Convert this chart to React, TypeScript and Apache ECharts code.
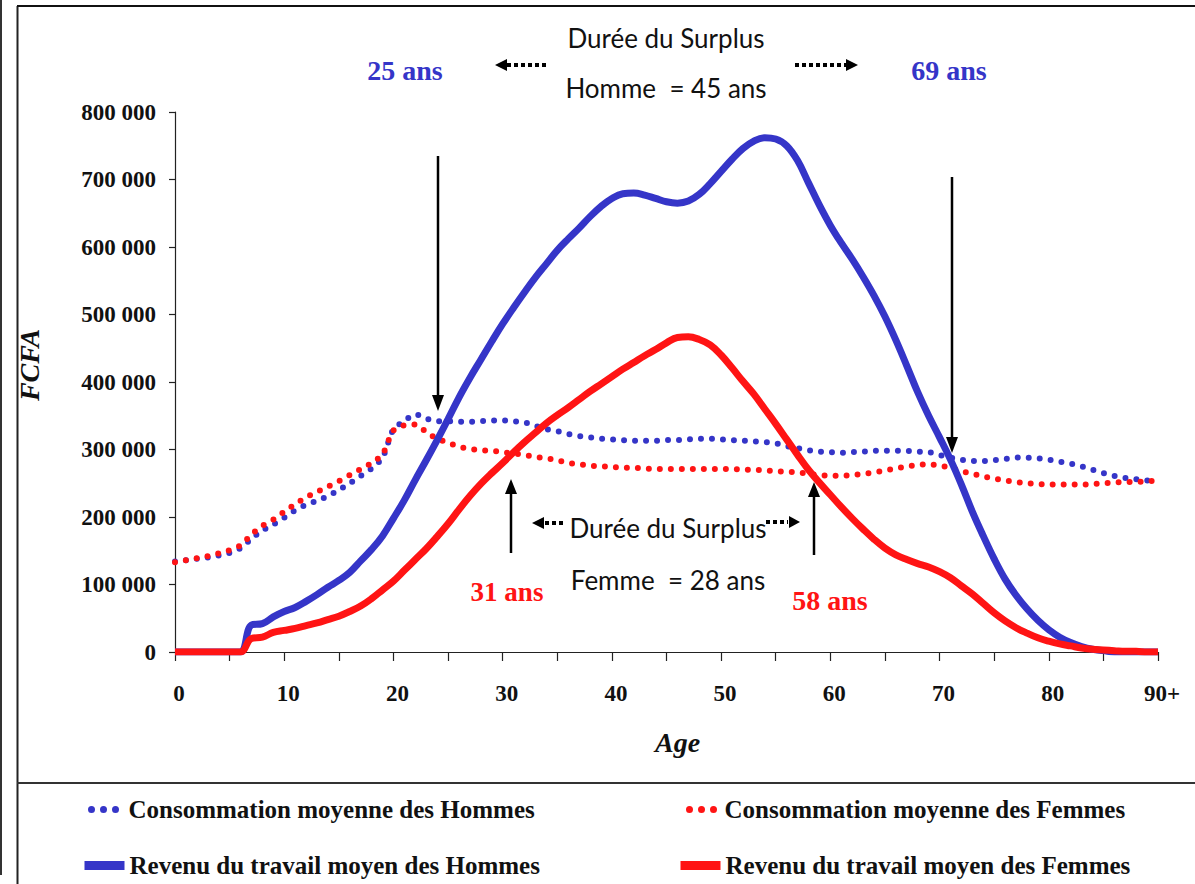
import { useEffect, useRef } from 'react';
import * as echarts from 'echarts';

// Age 0 .. 90+ (one point per year)
const ages: number[] = Array.from({ length: 91 }, (_, i) => i);

// Values in thousands of FCFA
const consoHommes: number[] = [
  134, 136, 138, 140, 143, 147, 154, 168, 180, 189,
  199, 210, 218, 224, 231, 240, 250, 261, 272, 288,
  330, 342, 352, 346, 342, 342, 341, 341, 342, 343,
  343, 342, 340, 335, 330, 327, 323, 320, 318, 316,
  315, 314, 313, 313, 313, 314, 314, 315, 316, 316,
  315, 314, 313, 312, 311, 309, 305, 302, 299, 297,
  296, 295, 296, 297, 298, 298, 298, 298, 297, 296,
  292, 288, 285, 283, 283, 284, 286, 288, 288, 287,
  285, 282, 279, 275, 270, 265, 261, 258, 256, 254,
  253,
];

const consoFemmes: number[] = [
  133, 136, 139, 142, 146, 151, 158, 174, 187, 196,
  208, 219, 229, 237, 245, 253, 262, 271, 280, 293,
  328, 336, 337, 326, 316, 310, 304, 301, 299, 298,
  296, 294, 292, 289, 287, 284, 280, 278, 276, 275,
  274, 273, 273, 272, 271, 271, 271, 271, 271, 271,
  271, 271, 270, 270, 269, 268, 267, 266, 264, 262,
  261, 261, 262, 264, 266, 269, 272, 275, 277, 278,
  276, 273, 268, 264, 260, 257, 254, 252, 250, 249,
  248, 248, 248, 248, 249, 250, 251, 252, 252, 253,
  254,
];

const revenuHommes: number[] = [
  0, 0, 0, 0, 0, 0, 0, 40, 42, 52,
  60, 66, 75, 85, 96, 106, 118, 135, 152, 172,
  198, 225, 255, 284, 314, 345, 377, 406, 433, 460,
  486, 510, 533, 555, 575, 595, 612, 628, 645, 660,
  672, 679, 680, 677, 672, 667, 665, 668, 678, 694,
  712, 730, 746, 757, 762, 760, 750, 728, 695, 662,
  632, 606, 582, 556, 528, 497, 462, 424, 385, 350,
  318, 285, 248, 208, 172, 138, 108, 84, 64, 47,
  33, 22, 14, 8, 4, 2, 0, 0, 0, 0,
  0,
];

const revenuFemmes: number[] = [
  0, 0, 0, 0, 0, 0, 0, 20, 22, 29,
  32, 35, 39, 43, 48, 53, 60, 68, 79, 92,
  105, 121, 137, 153, 171, 190, 211, 231, 249, 265,
  280, 296, 311, 325, 339, 351, 362, 374, 386, 397,
  408, 419, 429, 439, 448, 458, 466, 467, 463, 455,
  440, 421, 401, 382, 360, 338, 315, 292, 270, 251,
  233, 215, 198, 182, 167, 154, 144, 137, 131, 126,
  119, 110, 98, 86, 72, 58, 46, 36, 28, 21,
  16, 12, 9, 6, 4, 3, 2, 1, 1, 0,
  0,
];

const seriesNames = [
  'Consommation moyenne des Hommes',
  'Consommation moyenne des Femmes',
  'Revenu du travail moyen des Hommes',
  'Revenu du travail moyen des Femmes',
];

const BLUE = '#3535C8';
const RED = '#FF1414';
const SERIF = '"Liberation Serif", "Times New Roman", serif';
const SANS = 'Lato, "Open Sans", sans-serif';

const pairs = (vals: number[]) => ages.map((a, i) => [a, vals[i]]);

export default function App() {
  const ref = useRef<HTMLDivElement>(null);

  useEffect(() => {
    document.body.style.margin = '0';
    const chart = echarts.init(ref.current!, null, { renderer: 'svg' });

    const legendText = { fontFamily: SERIF, fontWeight: 'bold', fontSize: 25, color: '#111' };

    const dotted = (color: string) => ({
      color,
      width: 6,
      type: [0, 11],
      cap: 'round',
    });

    const label = (text: string, x: number, y: number, color: string, size: number, family = SERIF, weight = 'bold') => ({
      type: 'text',
      silent: true,
      style: {
        text,
        x,
        y,
        fill: color,
        fontFamily: family,
        fontWeight: weight,
        fontSize: size,
        align: 'center',
        verticalAlign: 'middle',
      },
    });

    const vline = (x: number, y1: number, y2: number) => ({
      type: 'line',
      silent: true,
      shape: { x1: x, y1, x2: x, y2 },
      style: { stroke: '#000', lineWidth: 2.5 },
    });
    const head = (points: number[][]) => ({
      type: 'polygon',
      silent: true,
      shape: { points },
      style: { fill: '#000' },
    });
    const dots = (x1: number, x2: number, y: number) => ({
      type: 'line',
      silent: true,
      shape: { x1, y1: y, x2, y2: y },
      style: { stroke: '#000', lineWidth: 4, lineDash: [4, 3] },
    });

    const legendBase = {
      itemHeight: 10,
      padding: 0,
      textStyle: legendText,
      itemStyle: { opacity: 0 },
    };
    const dotLegend = (color: string) => ({ color, width: 7, type: [0, 12], cap: 'round', dashOffset: -4 });
    const solidLegend = (color: string) => ({ color, width: 9, type: 'solid', cap: 'butt' });

    chart.setOption({
      animation: false,
      backgroundColor: '#fff',
      grid: { left: 175, right: 37, top: 112, bottom: 232, containLabel: false },
      xAxis: {
        type: 'value',
        min: 0,
        max: 90,
        interval: 5,
        name: 'Age',
        nameLocation: 'middle',
        nameGap: 76,
        nameTextStyle: {
          fontFamily: SERIF,
          fontStyle: 'italic',
          fontWeight: 'bold',
          fontSize: 28,
          color: '#111',
          padding: [0, 0, 0, 22],
        },
        axisLine: { show: true, lineStyle: { color: '#222', width: 1.2 } },
        axisTick: { show: true, length: 9, lineStyle: { color: '#222', width: 1.2 } },
        splitLine: { show: false },
        axisLabel: {
          margin: 30,
          fontFamily: SERIF,
          fontWeight: 'bold',
          fontSize: 23,
          color: '#111',
          padding: [0, 0, 0, 8],
          formatter: (v: number) => (v % 10 === 0 ? (v === 90 ? '90+' : String(v)) : ''),
        },
      },
      yAxis: {
        type: 'value',
        min: 0,
        max: 800,
        interval: 100,
        name: 'FCFA',
        nameLocation: 'middle',
        nameRotate: 90,
        nameGap: 132,
        nameTextStyle: {
          fontFamily: SERIF,
          fontStyle: 'italic',
          fontWeight: 'bold',
          fontSize: 28,
          color: '#111',
          padding: [0, 0, 0, 34],
        },
        axisLine: { show: true, lineStyle: { color: '#222', width: 1.2 } },
        axisTick: { show: true, length: 6, lineStyle: { color: '#222', width: 1.2 } },
        splitLine: { show: false },
        axisLabel: {
          margin: 19,
          fontFamily: SERIF,
          fontWeight: 'bold',
          fontSize: 23,
          color: '#111',
          formatter: (v: number) => (v === 0 ? '0' : `${v} 000`),
        },
      },
      legend: [
        {
          ...legendBase,
          data: [seriesNames[0]],
          left: 84,
          top: 797,
          itemWidth: 36,
          lineStyle: dotLegend(BLUE),
        },
        {
          ...legendBase,
          data: [seriesNames[1]],
          left: 682,
          top: 797,
          itemWidth: 34,
          lineStyle: dotLegend(RED),
        },
        {
          ...legendBase,
          data: [seriesNames[2]],
          left: 80,
          top: 853,
          itemWidth: 40,
          lineStyle: solidLegend(BLUE),
        },
        {
          ...legendBase,
          data: [seriesNames[3]],
          left: 676,
          top: 853,
          itemWidth: 40,
          lineStyle: solidLegend(RED),
        },
      ],
      series: [
        {
          name: seriesNames[0],
          type: 'line',
          data: pairs(consoHommes),
          symbol: 'none',
          smooth: 0.3,
          color: BLUE,
          lineStyle: dotted(BLUE),
          z: 2,
        },
        {
          name: seriesNames[1],
          type: 'line',
          data: pairs(consoFemmes),
          symbol: 'none',
          smooth: 0.3,
          color: RED,
          lineStyle: dotted(RED),
          z: 2,
        },
        {
          name: seriesNames[2],
          type: 'line',
          data: pairs(revenuHommes),
          symbol: 'none',
          smooth: 0.4,
          color: BLUE,
          lineStyle: { color: BLUE, width: 7 },
          z: 3,
        },
        {
          name: seriesNames[3],
          type: 'line',
          data: pairs(revenuFemmes),
          symbol: 'none',
          smooth: 0.4,
          color: RED,
          lineStyle: { color: RED, width: 7 },
          z: 3,
        },
      ],
      graphic: [
        // frame
        { type: 'line', silent: true, shape: { x1: 1, y1: 0, x2: 1, y2: 875 }, style: { stroke: '#333', lineWidth: 2 } },
        { type: 'line', silent: true, shape: { x1: 17.5, y1: 6, x2: 17.5, y2: 884 }, style: { stroke: '#222', lineWidth: 2 } },
        { type: 'line', silent: true, shape: { x1: 17, y1: 6, x2: 1195, y2: 6 }, style: { stroke: '#111', lineWidth: 2 } },
        { type: 'line', silent: true, shape: { x1: 17, y1: 783, x2: 1195, y2: 783 }, style: { stroke: '#333', lineWidth: 2 } },
        // top annotation (men)
        label('25 ans', 405, 70, BLUE, 28),
        label('69 ans', 949, 70, BLUE, 28),
        label('Durée du Surplus', 666, 38, '#111', 26, SANS, 'normal'),
        label('Homme  = 45 ans', 666, 88, '#111', 26, SANS, 'normal'),
        dots(507, 548, 65),
        head([[495, 65], [507, 59], [507, 71]]),
        dots(795, 846, 65),
        head([[858, 65], [846, 59], [846, 71]]),
        vline(438, 156, 397),
        head([[438, 411], [432, 395], [444, 395]]),
        vline(952, 177, 438),
        head([[952, 453], [946, 437], [958, 437]]),
        // bottom annotation (women)
        label('31 ans', 507, 592, RED, 27),
        label('58 ans', 830, 600, RED, 28),
        label('Durée du Surplus', 668, 528, '#111', 26, SANS, 'normal'),
        label('Femme  = 28 ans', 668, 580, '#111', 26, SANS, 'normal'),
        dots(545, 563, 523),
        head([[532, 523], [544, 517], [544, 529]]),
        dots(766, 788, 522),
        head([[800, 522], [789, 516], [789, 528]]),
        vline(511, 553, 492),
        head([[511, 479], [505, 494], [517, 494]]),
        vline(814, 555, 495),
        head([[814, 482], [808, 497], [820, 497]]),
      ],
    });

    return () => chart.dispose();
  }, []);

  return <div ref={ref} style={{ width: 1195, height: 884, background: '#fff' }} />;
}
